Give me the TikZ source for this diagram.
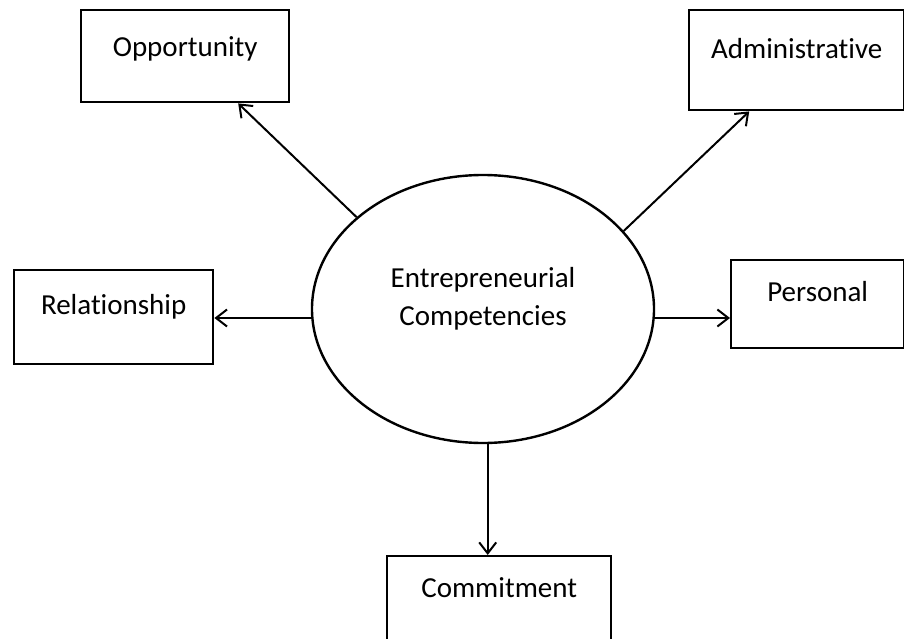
\documentclass[tikz,border=0pt]{standalone}
\usepackage{fontspec}
\setmainfont{Carlito}[Ligatures=NoCommon]
\usepackage{tikz}
\usetikzlibrary{shapes.geometric,arrows.meta,positioning,calc}

\begin{document}
\begin{tikzpicture}[x=0.5bp, y=-0.5bp,
    compbox/.style={draw, line width=1.2bp, inner sep=0pt, anchor=north west, font=\fontsize{14.5bp}{19bp}\selectfont},
    hub/.style={draw, ellipse, line width=1.2bp, inner sep=0pt, minimum width=171bp, minimum height=134bp},
    flow/.style={line width=1bp, -{Straight Barb[length=5.5bp, width=8.5bp]}}]
    \useasboundingbox (0,0) rectangle (904,639);

    % Centre ellipse
    \node[hub] (ec) at (483,309) {};
    \node[align=center, inner sep=0pt, font=\fontsize{14.5bp}{19bp}\selectfont] (ectext) at (483,299) {Entrepreneurial\\Competencies};

    % Competency boxes
    \node[compbox, minimum width=104bp, text height=23bp, text depth=23bp] (opp) at (80,9) {Opportunity};
    \node[compbox, minimum width=107.5bp, text height=24bp, text depth=26bp] (adm) at (688,9) {Administrative};
    \node[compbox, minimum width=99.5bp, text height=22bp, text depth=25bp] (rel) at (13,269) {Relationship};
    \node[compbox, minimum width=86.5bp, text height=20.5bp, text depth=23.5bp] (per) at (730,259) {Personal};
    \node[compbox, minimum width=112bp, text height=20.5bp, text depth=27.5bp] (com) at (386,555) {Commitment};

    % Arrows out of the ellipse
    \draw[flow] (ec.144) -- ([xshift=26.5bp]opp.south);
    \draw[flow] (ec.29) -- ([xshift=-23.75bp]adm.south);
    \draw[flow] (ec.183) -- (rel.east |- ec.183);
    \draw[flow] (ec.-3) -- (per.west |- ec.-3);
    \draw[flow] (ec.-88) -- (com.north -| ec.-88);
\end{tikzpicture}
\end{document}
